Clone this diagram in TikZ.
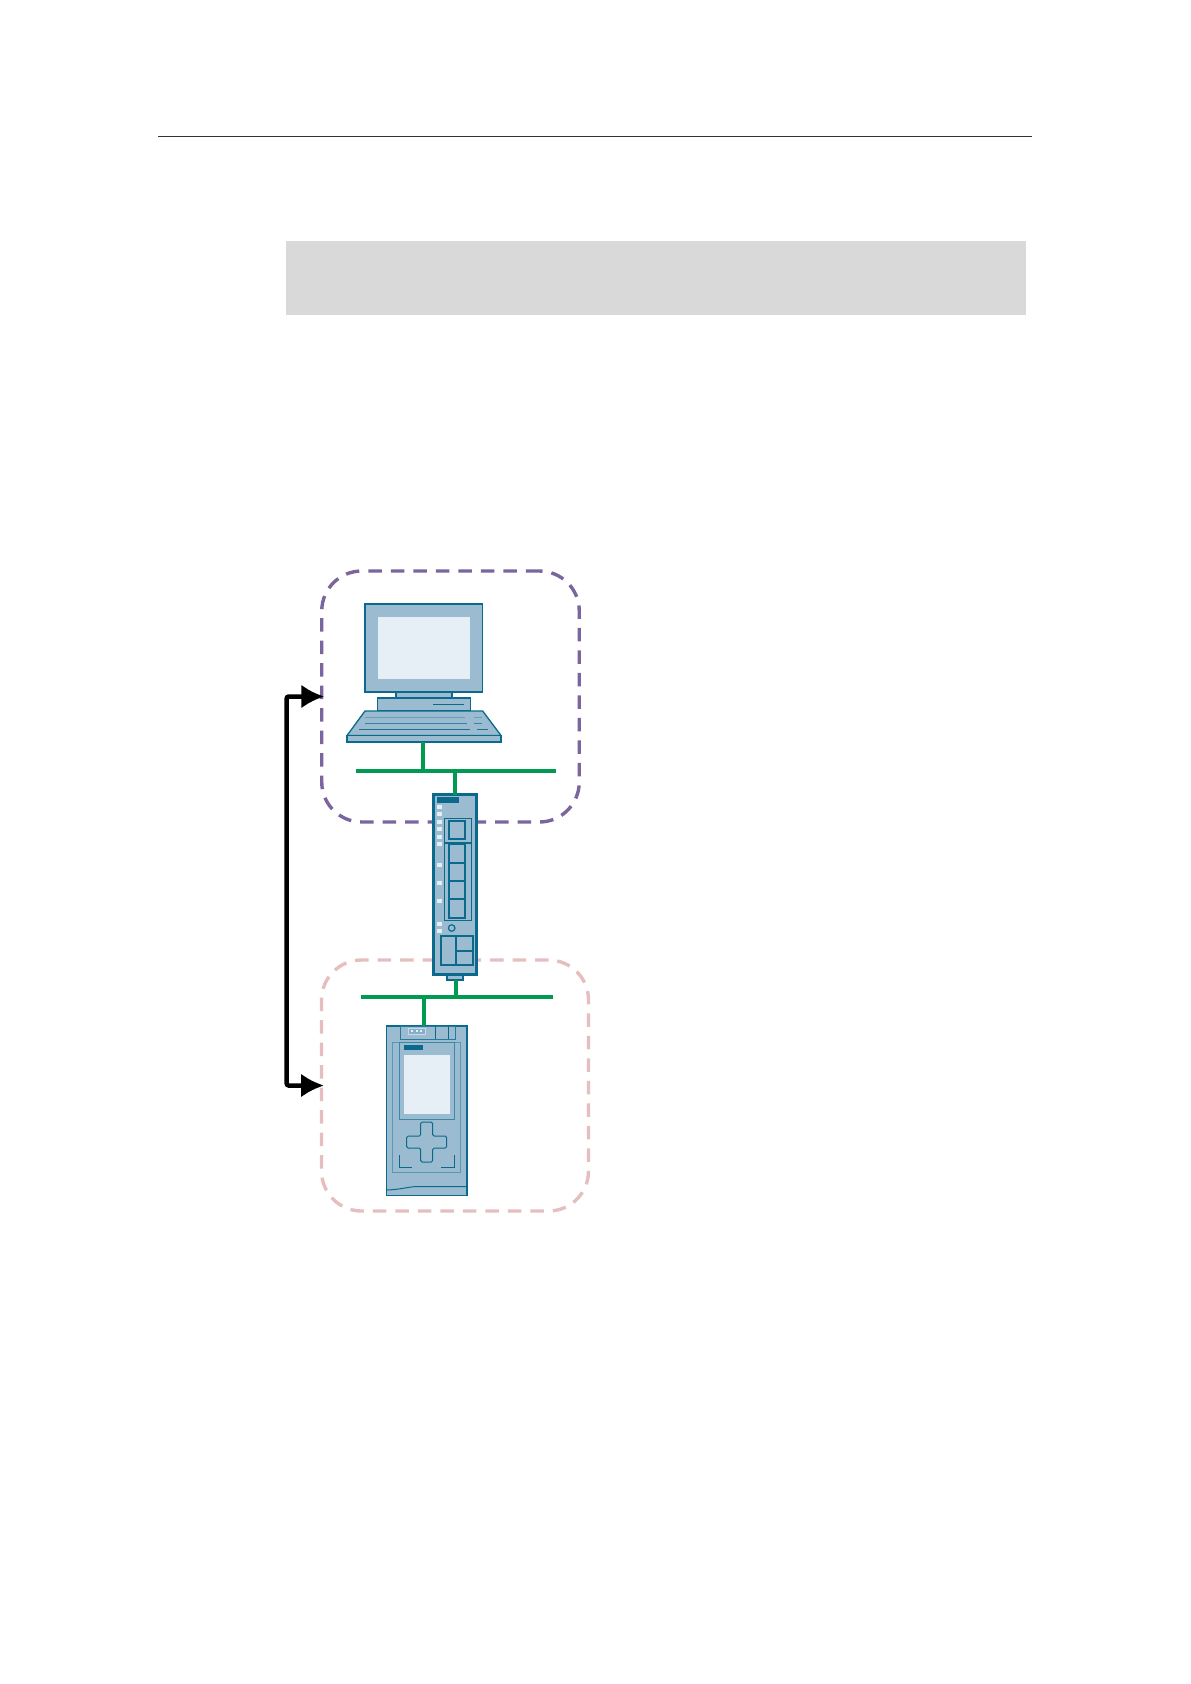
\documentclass[tikz,border=0pt]{standalone}
\usepackage{xcolor}
\usetikzlibrary{positioning, arrows.meta}
\definecolor{devline}{HTML}{0B6A8C}
\definecolor{devfill}{HTML}{9ABBD0}
\definecolor{devscreen}{HTML}{E6EFF6}
\definecolor{netgreen}{HTML}{009A50}
\definecolor{grouppurple}{HTML}{7B659E}
\definecolor{grouppink}{HTML}{E5BFC0}
\definecolor{bandgray}{HTML}{D9D9D9}
\tikzset{
    part/.style={draw=devline, fill=devfill, line width=1.3pt, inner sep=0pt, outer sep=0pt},
    screen/.style={draw=none, fill=devscreen, inner sep=0pt, outer sep=0pt},
    led/.style={draw=none, fill=devscreen, inner sep=0pt, minimum size=4.5pt},
    tag/.style={draw=none, fill=devline, inner sep=0pt, outer sep=0pt},
    groupbox/.style={dashed, line width=3.4pt, rounded corners=40pt, dash pattern=on 13.5pt off 9pt, inner sep=0pt, outer sep=0pt},
    bus/.style={netgreen, line width=4pt},
    thinline/.style={devline, line width=1.1pt}
}

\begin{document}
\begin{tikzpicture}[x=1pt, y=-1pt]
\useasboundingbox (0,0) rectangle (1191,1684);

% Cabecera
\coordinate (ruleL) at (158,136.5);
\coordinate (ruleR) at (1032,136.5);
\draw[black!80, line width=1pt] (ruleL) -- (ruleR);
\node (band) [fill=bandgray, inner sep=0pt, minimum width=740pt, minimum height=74pt] at (656,278) {};

% Grupos
\node (pcgroup) [groupbox, draw=grouppurple, minimum width=257.5pt, minimum height=251pt] at (450.5,696.5) {};
\node (plcgroup) [groupbox, draw=grouppink, minimum width=267pt, minimum height=251pt] at (455,1085.5) {};

% Flecha
\draw[line width=4.5pt, rounded corners=2pt, shorten >=-2.5pt, shorten <=-2.5pt, {Latex[length=23pt, width=24pt]}-{Latex[length=23pt, width=24pt]}]
    (pcgroup.west) -- (286.7,696.5) -- (286.7,1085.5) -- (plcgroup.west);

% Redes
\coordinate (busAL) at (356,770.7);
\coordinate (busAR) at (556,770.7);
\coordinate (busBL) at (361,997);
\coordinate (busBR) at (553,997);
\coordinate (dropA) at (423,770.7);
\coordinate (dropB) at (455,770.7);
\coordinate (dropC) at (455.5,997);
\coordinate (dropD) at (424,997);
\draw[bus] (busAL) -- (busAR);
\draw[bus] (busBL) -- (busBR);

% PC
\node (monitor) [part, minimum width=117.7pt, minimum height=88pt] at (423.8,648) {};
\node (display) [screen, minimum width=92pt, minimum height=62pt] at (424,648) {};
\node (neck) [part, minimum width=56pt, minimum height=6pt] at (424,695) {};
\node (tower) [part, minimum width=93pt, minimum height=13pt] at (424,704.5) {};
\coordinate (slotL) at (433,704.5);
\coordinate (slotR) at (464,704.5);
\draw[thinline, line width=0.8pt] (slotL) -- (slotR);
\draw[part] (365,711) -- (482.7,711) -- (501,735.5) -- (347,735.5) -- cycle;
\node (keys) [part, minimum width=154pt, minimum height=6.5pt] at (424,738.7) {};
\draw[devline!35!devfill, line width=0.7pt] (365,717) -- (465,717) (474,717) -- (482,717);
\draw[devline!70!devfill, line width=0.7pt] (365,723) -- (467,723) (474,723) -- (482,723);
\draw[devline!90!devfill, line width=0.7pt] (359,729.5) -- (470,729.5) (477,729.5) -- (488,729.5);

% Modulo de red
\node (foot) [part, line width=1.8pt, minimum width=16pt, minimum height=5pt] at (455,977.5) {};
\node (switch) [part, line width=3pt, minimum width=43pt, minimum height=180pt] at (455,884.5) {};
\node (swtag) [tag, minimum width=22pt, minimum height=6pt] at (448,800) {};
\foreach \ly in {807,814,822,829,837,844,865,883,901,924,931}
    \node (led\ly) [led] at (439.5,\ly) {};
\node (portA) [draw=devline, line width=0.8pt, inner sep=0pt, minimum width=27pt, minimum height=24pt] at (457.5,830) {};
\node (portAin) [draw=devline, line width=1.2pt, inner sep=0pt, minimum width=16pt, minimum height=18pt] at (457,830) {};
\node (portB) [draw=devline, line width=0.8pt, inner sep=0pt, minimum width=27pt, minimum height=77pt] at (457.5,881.5) {};
\node (portBin) [draw=devline, line width=1.2pt, inner sep=0pt, minimum width=16pt, minimum height=74pt] at (457,881) {};
\foreach \dy in {863,881,899}
    \draw[thinline] (449,\dy) -- (465,\dy);
\node (knob) [circle, draw=devline, line width=1.2pt, inner sep=0pt, minimum size=6.5pt] at (451.7,928) {};
\node (term) [draw=devline, line width=1.1pt, inner sep=0pt, minimum width=32pt, minimum height=29pt] at (457,950.5) {};
\draw[thinline] (456,936) -- (456,965) (456,951) -- (473,951);

% Controlador
\node (plc) [part, line width=1.6pt, minimum width=80.3pt, minimum height=169.7pt] at (426.8,1110.8) {};
\node (plctop) [draw=devline!80!devfill, line width=0.8pt, inner sep=0pt, minimum width=55pt, minimum height=13pt] at (427.5,1032.5) {};
\draw[thinline, line width=0.8pt] (435,1026) -- (435,1039) (448,1026) -- (448,1039);
\node (plcplug) [draw=devfill!40!devscreen, fill=devfill!85!devline, line width=0.6pt, inner sep=0pt, minimum width=17pt, minimum height=6pt] at (416.5,1031) {};
\foreach \dx in {412,416.5,421}
    \node (dot\dx) [led, minimum size=2pt] at (\dx,1031) {};
\node (plcpanel) [draw=devline!45!devfill, line width=0.8pt, inner sep=0pt, minimum width=68pt, minimum height=130pt] at (426.8,1107) {};
\node (plcframe) [draw=devline!65!devfill, line width=0.8pt, inner sep=0pt, minimum width=55pt, minimum height=77pt] at (426.5,1080.5) {};
\node (plctag) [tag, minimum width=19pt, minimum height=5pt] at (413.5,1047.5) {};
\node (plcscreen) [screen, minimum width=46pt, minimum height=59pt] at (427,1084.5) {};
\draw[thinline, line width=1pt, rounded corners=1.5pt] (420.7,1122) -- (432.7,1122) -- (432.7,1136) -- (446.7,1136) -- (446.7,1148)
    -- (432.7,1148) -- (432.7,1162) -- (420.7,1162) -- (420.7,1148) -- (406.7,1148) -- (406.7,1136) -- (420.7,1136) -- cycle;
\draw[thinline, line width=1pt] (399,1155) -- (399,1167) -- (412,1167) (454,1155) -- (454,1167) -- (441,1167);
\draw[thinline, line width=1pt] (387,1190) .. controls (400,1189.5) and (408,1187) .. (416,1186.5) -- (467,1186.5);

% Conexiones
\draw[bus] (keys.south -| dropA) -- (dropA);
\draw[bus] (dropB) -- (switch.north -| dropB);
\draw[bus] (foot.south -| dropC) -- (dropC);
\draw[bus] (dropD) -- (plc.north -| dropD);

\end{tikzpicture}
\end{document}
